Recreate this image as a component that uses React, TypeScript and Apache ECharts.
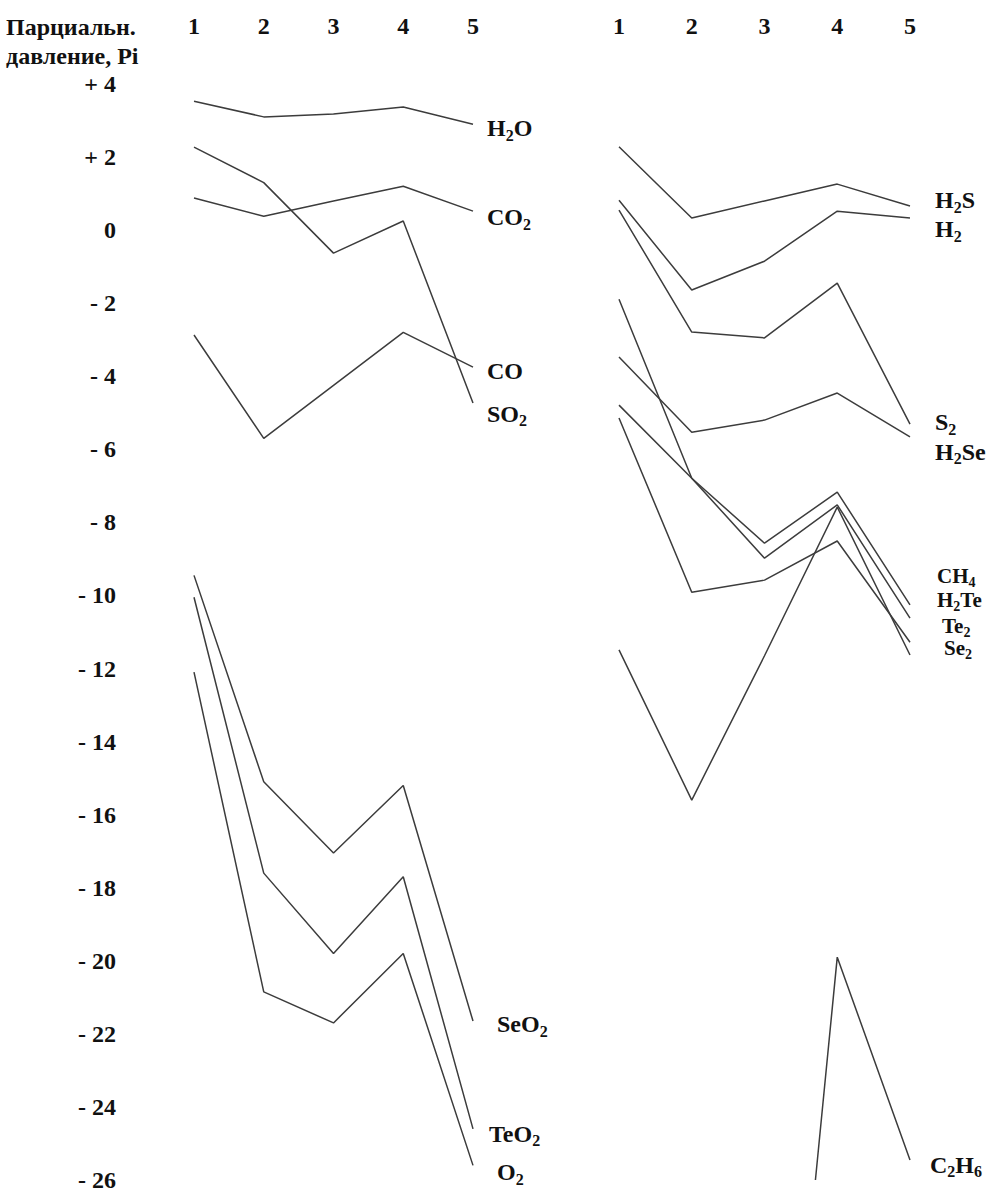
import React, { useEffect, useRef } from "react";
import * as echarts from "echarts";

// Column numbers (positions 1..5) shared by both panels
const positions = [1, 2, 3, 4, 5];
const yTicks = { min: -26, max: 4, step: 2 };

// Left panel: oxygen-bearing species
const h2o = [3.53, 3.1, 3.18, 3.37, 2.9];
const co2 = [0.88, 0.38, 0.8, 1.2, 0.52];
const co = [-2.87, -5.7, -4.25, -2.8, -3.75];
const so2 = [2.27, 1.3, -0.63, 0.25, -4.73];
const seo2 = [-9.45, -15.1, -17.05, -15.2, -21.65];
const teo2 = [-10.05, -17.6, -19.8, -17.7, -24.6];
const o2 = [-12.1, -20.85, -21.7, -19.8, -25.6];

// Right panel: hydrides, diatomic species and hydrocarbons
const h2s = [2.28, 0.33, 0.8, 1.26, 0.66];
const h2 = [0.82, -1.64, -0.85, 0.52, 0.33];
const s2 = [0.55, -2.79, -2.95, -1.45, -5.31];
const h2se = [-3.47, -5.53, -5.2, -4.46, -5.66];
const ch4 = [-1.89, -6.79, -8.57, -7.17, -10.26];
const h2te = [-4.79, -6.79, -8.98, -7.52, -10.62];
const te2 = [-5.14, -9.91, -9.58, -8.51, -11.28];
const se2 = [-11.49, -15.6, -11.65, -7.58, -11.63];
const c2h6X = [3.7, 4, 5];
const c2h6 = [-26, -19.9, -25.45];

const FONT = "'Liberation Serif', 'Times New Roman', serif";
const INK = "#111";
const LINE = "#3c3c3c";
const FS = 24;

const bold = { fontFamily: FONT, fontWeight: "bold" as const, color: INK };

// Chemical formulas: main glyphs plus subscripts pushed down by top padding.
// The "b"/"t" pair is a slightly smaller variant for the tightly stacked labels.
const rich = {
  m: { ...bold, fontSize: FS, lineHeight: 16, verticalAlign: "middle" as const },
  s: { ...bold, fontSize: 16, lineHeight: 8, padding: [14, 0, 0, 0], verticalAlign: "middle" as const },
  b: { ...bold, fontSize: 21, lineHeight: 16, verticalAlign: "middle" as const },
  t: { ...bold, fontSize: 14, lineHeight: 8, padding: [13, 0, 0, 0], verticalAlign: "middle" as const },
};

type Curve = {
  name: string;
  label: string;
  values: number[];
  xs?: number[];
  panel: number;
  offset: [number, number];
};

const curves: Curve[] = [
  { name: "H2O", label: "{m|H}{s|2}{m|O}", values: h2o, panel: 0, offset: [14, 4] },
  { name: "CO2", label: "{m|CO}{s|2}", values: co2, panel: 0, offset: [14, 6] },
  { name: "CO", label: "{m|CO}", values: co, panel: 0, offset: [14, 4] },
  { name: "SO2", label: "{m|SO}{s|2}", values: so2, panel: 0, offset: [14, 11] },
  { name: "SeO2", label: "{m|SeO}{s|2}", values: seo2, panel: 0, offset: [24, 3] },
  { name: "TeO2", label: "{m|TeO}{s|2}", values: teo2, panel: 0, offset: [16, 5] },
  { name: "O2", label: "{m|O}{s|2}", values: o2, panel: 0, offset: [24, 7] },
  { name: "H2S", label: "{m|H}{s|2}{m|S}", values: h2s, panel: 1, offset: [25, -6] },
  { name: "H2", label: "{m|H}{s|2}", values: h2, panel: 1, offset: [25, 11] },
  { name: "S2", label: "{m|S}{s|2}", values: s2, panel: 1, offset: [25, -2] },
  { name: "H2Se", label: "{m|H}{s|2}{m|Se}", values: h2se, panel: 1, offset: [25, 15] },
  { name: "CH4", label: "{b|CH}{t|4}", values: ch4, panel: 1, offset: [27, -29] },
  { name: "H2Te", label: "{b|H}{t|2}{b|Te}", values: h2te, panel: 1, offset: [27, -18] },
  { name: "Te2", label: "{b|Te}{t|2}", values: te2, panel: 1, offset: [32, -16] },
  { name: "Se2", label: "{b|Se}{t|2}", values: se2, panel: 1, offset: [34, -7] },
  { name: "C2H6", label: "{m|C}{s|2}{m|H}{s|6}", values: c2h6, xs: c2h6X, panel: 1, offset: [20, 5] },
];

const tickText = (v: number) => (v > 0 ? "+ " + v : v < 0 ? "- " + -v : "0");

export default function App() {
  const ref = useRef<HTMLDivElement>(null);

  useEffect(() => {
    if (!ref.current) return;
    const chart = echarts.init(ref.current, null, { renderer: "svg" });

    const xAxisBase = {
      type: "value" as const,
      min: 1,
      max: 5,
      interval: 1,
      position: "top" as const,
      axisLine: { show: false },
      axisTick: { show: false },
      splitLine: { show: false },
      axisLabel: { margin: 46, ...bold, fontSize: FS },
    };
    const yAxisBase = {
      type: "value" as const,
      min: yTicks.min,
      max: yTicks.max,
      interval: yTicks.step,
      axisLine: { show: false },
      axisTick: { show: false },
      splitLine: { show: false },
    };

    chart.setOption({
      animation: false,
      backgroundColor: "#fff",
      grid: [
        { left: 194, right: 1006 - 473, top: 84, bottom: 1194 - 1180 },
        { left: 619, right: 1006 - 910, top: 84, bottom: 1194 - 1180 },
      ],
      xAxis: [
        { ...xAxisBase, gridIndex: 0 },
        { ...xAxisBase, gridIndex: 1 },
      ],
      yAxis: [
        {
          ...yAxisBase,
          gridIndex: 0,
          axisLabel: { margin: 78, formatter: tickText, ...bold, fontSize: FS },
        },
        { ...yAxisBase, gridIndex: 1, axisLabel: { show: false } },
      ],
      graphic: [
        {
          type: "text",
          left: 6,
          top: 12,
          style: {
            text: "Парциальн.\nдавление, Pi",
            font: `bold ${FS}px ${FONT}`,
            fill: INK,
            lineHeight: 29,
          },
        },
      ],
      series: curves.map((c) => ({
        name: c.name,
        type: "line",
        xAxisIndex: c.panel,
        yAxisIndex: c.panel,
        data: c.values.map((v, i) => [(c.xs ?? positions)[i], v]),
        showSymbol: false,
        symbol: "none",
        lineStyle: { color: LINE, width: 1.5 },
        emphasis: { disabled: true },
        endLabel: {
          show: true,
          formatter: c.label,
          rich,
          distance: 0,
          offset: c.offset,
          align: "left",
          verticalAlign: "middle",
        },
      })),
    });

    return () => chart.dispose();
  }, []);

  return (
    <div
      ref={ref}
      style={{ position: "absolute", left: 0, top: 0, width: 1006, height: 1194 }}
    />
  );
}
